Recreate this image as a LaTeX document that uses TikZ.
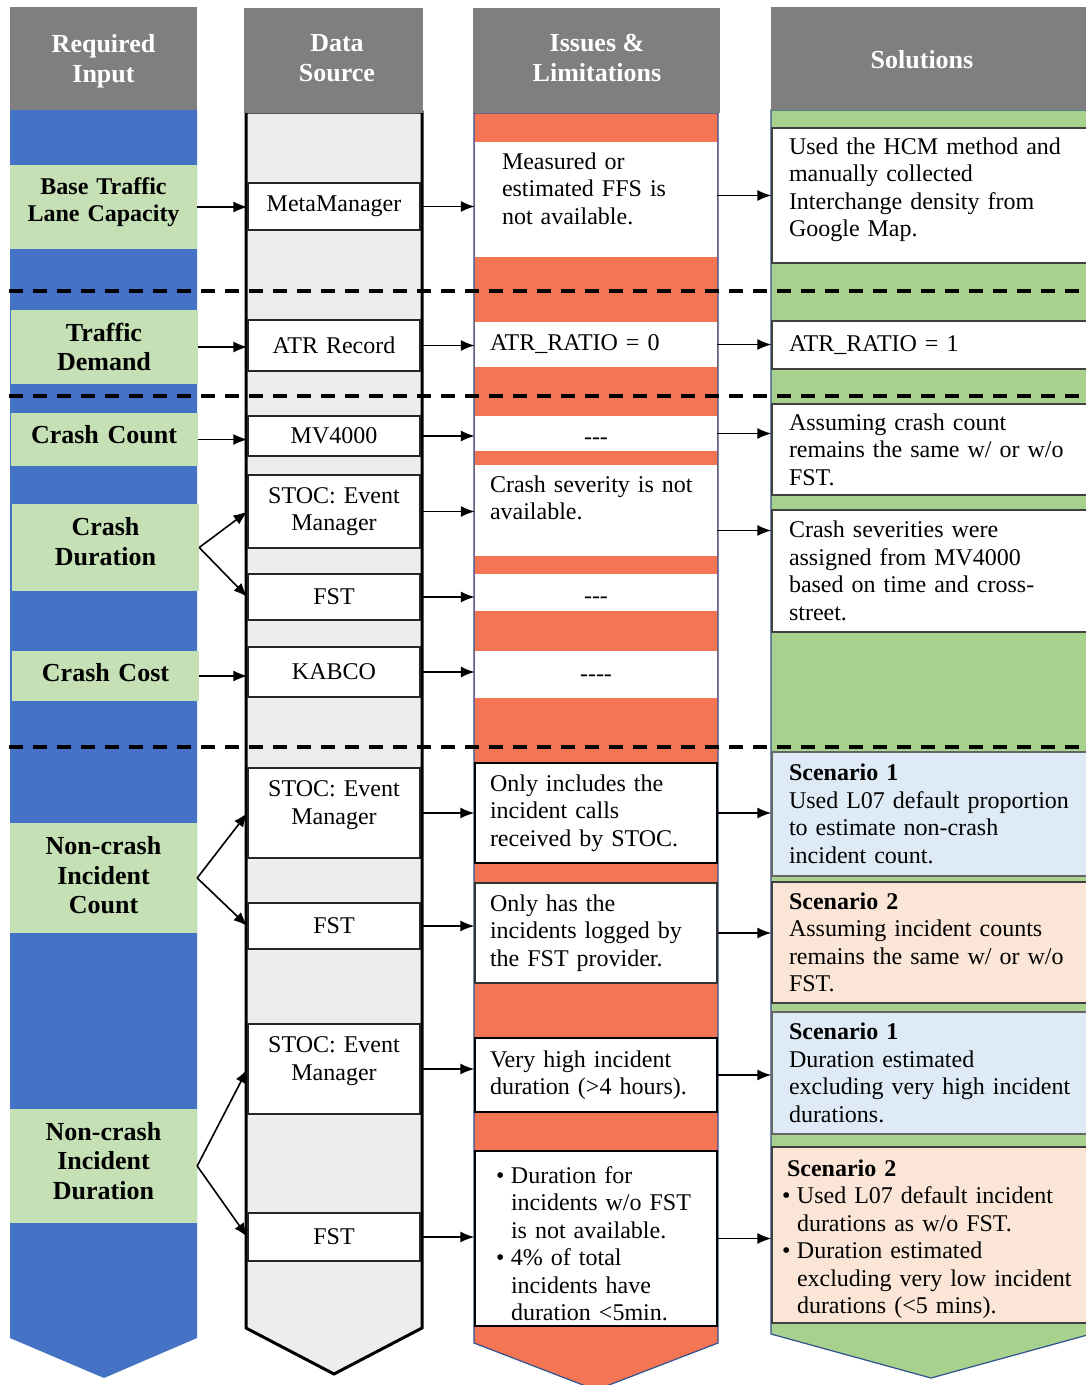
\documentclass[tikz,border=0pt]{standalone}
\usepackage{fontspec}
\setmainfont{Liberation Serif}
\usepackage{tikz}
\usetikzlibrary{arrows.meta}
\usetikzlibrary{calc}
\definecolor{hdrgray}{RGB}{127,127,127}
\definecolor{inblue}{RGB}{68,114,196}
\definecolor{srcgray}{RGB}{237,237,237}
\definecolor{issorange}{RGB}{243,117,83}
\definecolor{solgreen}{RGB}{169,209,142}
\definecolor{lblgreen}{RGB}{197,224,180}
\definecolor{scnblue}{RGB}{222,235,247}
\definecolor{scnpeach}{RGB}{251,229,214}
\definecolor{edgeblue}{RGB}{47,82,143}
\newcommand{\bitem}{\par\noindent\hangindent=15pt\hangafter=1\makebox[15pt][l]{\textbullet}}

\begin{document}
\begin{tikzpicture}[x=1pt,y=-1pt,
  hdr/.style={text=white, align=center, font=\bfseries\fontsize{26}{30}\selectfont},
  req/.style={fill=lblgreen, minimum width=187pt, inner sep=0pt, text width=187pt, align=center,
    font=\bfseries\fontsize{26}{29.5}\selectfont},
  src/.style={draw=black!85, line width=1.2pt, fill=white, minimum width=172pt,
    inner sep=0pt, text width=172pt, align=center, font=\fontsize{24}{27.5}\selectfont},
  iss/.style={fill=white, inner xsep=15pt, inner ysep=0pt, text width=212pt,
    align=left, font=\fontsize{24}{27.5}\selectfont},
  sol/.style={draw=black!75, line width=1.2pt, fill=white, inner xsep=17pt,
    inner ysep=0pt, text width=289pt, align=left, font=\fontsize{24}{27.5}\selectfont},
  link/.style={-{Latex[length=14pt,width=11pt]}, line width=1.6pt},
  sepline/.style={line width=3.5pt, dash pattern=on 13.5pt off 10.5pt}]
  \useasboundingbox (0,0) rectangle (1086,1385);
  \clip (0,0) rectangle (1086,1385);

  % columns
  \filldraw[fill=inblue, draw=none] (10,110) -- (197,110) -- (197,1338) -- (104,1378) -- (10,1338) -- cycle;
  \filldraw[fill=srcgray, draw=black, line width=3pt] (246,112) -- (422,112) -- (422,1328) -- (334,1374) -- (246,1328) -- cycle;
  \filldraw[fill=issorange, draw=edgeblue, line width=1.2pt] (474,113) -- (718,113) -- (718,1343) -- (596,1390) -- (474,1343) -- cycle;
  \filldraw[fill=solgreen, draw=edgeblue, line width=1.2pt] (771,110) -- (1091,110) -- (1091,1334) -- (931,1378) -- (771,1334) -- cycle;

  % headers
  \fill[hdrgray] (10,7) rectangle (197,110);
  \fill[hdrgray] (244,8) rectangle (423,113);
  \fill[hdrgray] (473,8) rectangle (720,113);
  \fill[hdrgray] (771,7) rectangle (1091,110);
  \node[hdr] (h1) at (103.5,61) {Required\\Input};
  \node[hdr] (h2) at (337,58) {Data\\Source};
  \node[hdr] (h3) at (597,58) {Issues \&\\Limitations};
  \node[hdr] (h4) at (922,60) {Solutions};

  % required input
  \node[req, minimum height=84pt, text depth=42pt, font=\bfseries\fontsize{24}{27}\selectfont] (req1) at (103.5,207) {Base Traffic\\Lane Capacity};
  \node[req, minimum height=74pt] (req2) at (104,347) {Traffic\\Demand};
  \node[req, minimum height=53pt, text depth=10pt] (req3) at (104,439.5) {Crash Count};
  \node[req, minimum height=87pt, text depth=42pt] (req4) at (105.5,547.5) {Crash\\Duration};
  \node[req, minimum height=50pt, text depth=8pt] (req5) at (105.5,676) {Crash Cost};
  \node[req, minimum height=110pt, text depth=65pt] (req6) at (103.5,878) {Non-crash\\Incident\\Count};
  \node[req, minimum height=114pt, text depth=70pt] (req7) at (103.5,1166) {Non-crash\\Incident\\Duration};

  % data source
  \node[src, minimum height=47pt] (src1) at (334,206.5) {MetaManager};
  \node[src, minimum height=51pt] (src2) at (334,345.5) {ATR Record};
  \node[src, minimum height=40pt] (src3) at (334,436) {MV4000};
  \node[src, minimum height=73pt] (src4) at (334,511.5) {STOC: Event\\Manager};
  \node[src, minimum height=46pt] (src5) at (334,597) {FST};
  \node[src, minimum height=50pt] (src6) at (334,672) {KABCO};
  \node[src, minimum height=90pt, text depth=48pt] (src7) at (334,813) {STOC: Event\\Manager};
  \node[src, minimum height=46pt] (src8) at (334,926) {FST};
  \node[src, minimum height=90pt, text depth=48pt] (src9) at (334,1069) {STOC: Event\\Manager};
  \node[src, minimum height=48pt] (src10) at (334,1237) {FST};

  % issues and limitations
  \node[iss, minimum height=115pt, text depth=77pt, inner xsep=27pt, text width=188pt] (iss1) at (596,199.5) {Measured or\\estimated FFS is\\not available.};
  \node[iss, minimum height=45pt] (iss2) at (596,344.5) {ATR\_RATIO = 0};
  \node[iss, minimum height=35pt, text height=21pt, text depth=0pt, align=center] (iss3) at (596,433.5) {-{}-{}-};
  \node[iss, minimum height=91pt, text depth=53pt] (iss4) at (596,510.5) {Crash severity is not\\available.};
  \node[iss, minimum height=37pt, text height=21pt, text depth=0pt, align=center] (iss5) at (596,592.5) {-{}-{}-};
  \node[iss, minimum height=47pt, text height=13pt, text depth=0pt, align=center] (iss6) at (596,674.5) {-{}-{}-{}-};
  \node[iss, draw=black, line width=1.2pt, minimum height=100pt] (iss7) at (596,813) {Only includes the\\incident calls\\received by STOC.};
  \node[iss, draw=black!80, line width=1.2pt, minimum height=100pt] (iss8) at (596,933) {Only has the\\incidents logged by\\the FST provider.};
  \node[iss, draw=black, line width=1.2pt, minimum height=74pt] (iss9) at (596,1075) {Very high incident\\duration (>4 hours).};
  \node[iss, draw=black, line width=1.2pt, minimum height=175pt, inner xsep=21pt, text width=200pt] (iss10) at (596,1238.5)
    {\bitem Duration for\newline incidents w/o FST\newline is not available.
     \bitem 4\% of total\newline incidents have\newline duration <5min.\par};

  % solutions
  \node[sol, minimum height=135pt, text depth=99pt] (sol1) at (933.5,195.5) {Used the HCM method and\\manually collected\\Interchange density from\\Google Map.};
  \node[sol, minimum height=48pt] (sol2) at (933.5,345) {ATR\_RATIO = 1};
  \node[sol, minimum height=91pt] (sol3) at (933.5,449.5) {Assuming crash count\\remains the same w/ or w/o\\FST.};
  \node[sol, minimum height=122pt] (sol4) at (933.5,571) {Crash severities were\\assigned from MV4000\\based on time and cross-\\street.};
  \node[sol, fill=scnblue, draw=black!60, minimum height=124pt] (sol5) at (933.5,814) {\textbf{Scenario 1}\\Used L07 default proportion\\to estimate non-crash\\incident count.};
  \node[sol, fill=scnpeach, minimum height=121pt] (sol6) at (933.5,942.5) {\textbf{Scenario 2}\\Assuming incident counts\\remains the same w/ or w/o\\FST.};
  \node[sol, fill=scnblue, draw=black!60, minimum height=122pt] (sol7) at (933.5,1073) {\textbf{Scenario 1}\\Duration estimated\\excluding very high incident\\durations.};
  \node[sol, fill=scnpeach, minimum height=176pt, text depth=134pt, inner xsep=10pt, text width=303pt] (sol8) at (933.5,1235)
    {\hspace*{5pt}\textbf{Scenario 2}
     \bitem Used L07 default incident\newline durations as w/o FST.
     \bitem Duration estimated\newline excluding very low incident\newline durations (<5 mins).\par};

  % input -> source
  \draw[link] (req1.east) -- (req1.east -| src1.west);
  \draw[link] (req2.east) -- (req2.east -| src2.west);
  \draw[link] (req3.east) -- (req3.east -| src3.west);
  \draw[link] (req4.east) -- (src4.west);
  \draw[link] (req4.east) -- (src5.west);
  \draw[link] (req5.east) -- (req5.east -| src6.west);
  \draw[link] (req6.east) -- (src7.west);
  \draw[link] (req6.east) -- (src8.west);
  \draw[link] (req7.east) -- (src9.west);
  \draw[link] (req7.east) -- (src10.west);

  % source -> issues
  \foreach \i in {1, 2, ..., 10} {
    \draw[link] (src\i.east) -- (src\i.east -| iss\i.west);
  }

  % issues -> solutions
  \draw[link] (iss1.east |- sol1.west) -- (sol1.west);
  \draw[link] (iss2.east) -- (iss2.east -| sol2.west);
  \draw[link] (iss3.east) -- (iss3.east -| sol3.west);
  \draw[link] ([yshift=-20pt]iss4.east) -- ([yshift=-20pt]iss4.east -| sol4.west);
  \draw[link] (iss7.east) -- (iss7.east -| sol5.west);
  \draw[link] (iss8.east) -- (iss8.east -| sol6.west);
  \draw[link] (iss9.east) -- (iss9.east -| sol7.west);
  \draw[link] (iss10.east) -- (iss10.east -| sol8.west);

  % row separators
  \foreach \y in {291, 396, 747} {
    \draw[sepline] (9,\y) -- (1086,\y);
  }
\end{tikzpicture}
\end{document}
